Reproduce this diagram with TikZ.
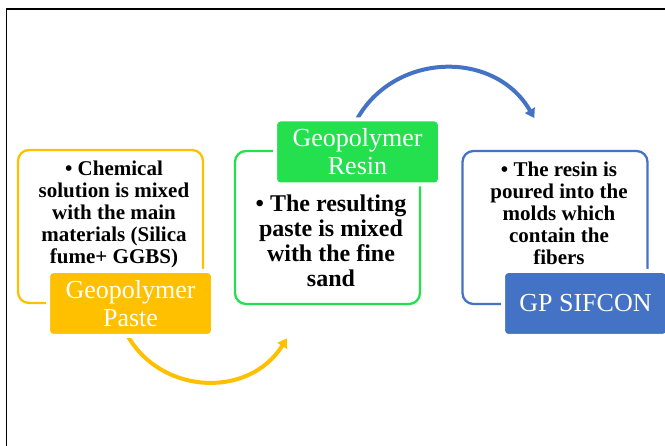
\documentclass[tikz,border=0pt]{standalone}
\usepackage{fontspec}
\setmainfont{Liberation Serif}
\newfontfamily\tnr{Liberation Serif}
\usetikzlibrary{arrows.meta}
\definecolor{gold}{HTML}{FFC000}
\definecolor{lime}{HTML}{25E04E}
\definecolor{steel}{HTML}{4472C4}
\begin{document}
\begin{tikzpicture}[x=1pt,y=1pt,
  outline/.style={draw, line width=2.3pt, rounded corners=11pt, minimum width=185pt, minimum height=153pt, inner sep=0pt},
  title/.style={draw=white, line width=4pt, rounded corners=5pt, minimum width=165pt, minimum height=65pt, inner sep=0pt, text=white, font=\tnr\fontsize{26}{28}\selectfont, align=center},
  body/.style={font=\tnr\bfseries\fontsize{21}{22}\selectfont, align=center, anchor=north, inner sep=0pt},
  flow/.style={line width=4pt, -{Triangle[length=9pt,width=11pt]}}
]
\useasboundingbox (0,0) rectangle (665,-446);
\draw[line width=1.8pt] (6.5,-446) -- (6.5,-9) -- (666,-9);

\coordinate (ys) at (123.7,-328.3);
\coordinate (ye) at (286.9,-338.3);
\draw[flow, gold] (ys) to[out=-65, in=238, looseness=1.15] (ye);
\coordinate (bs) at (353.6,-125.9);
\coordinate (be) at (534.3,-118);
\draw[flow, steel] (bs) to[out=65, in=120, looseness=1.15] (be);

\node[outline, draw=gold] (ybox) at (110.5,-226.5) {};
\node[outline, draw=lime] (gbox) at (327.5,-227.5) {};
\node[outline, draw=steel] (bbox) at (555,-227.5) {};

\node[title, fill=gold] (ytitle) at (130.5,-303.5) {Geopolymer\\Paste};
\node[title, fill=lime] (gtitle) at (357.5,-152) {Geopolymer\\Resin};
\node[title, fill=steel] (btitle) at (585.5,-303.5) {GP SIFCON};

\node[body] (ytext) at (114,-161) {• Chemical\\solution is mixed\\with the main\\materials (Silica\\fume+ GGBS)};
\node[body, font=\tnr\bfseries\fontsize{24}{25}\selectfont] (gtext) at (331,-195) {• The resulting\\paste is mixed\\with the fine\\sand};
\node[body] (btext) at (559,-162) {• The resin is\\poured into the\\molds which\\contain the\\fibers};
\end{tikzpicture}
\end{document}
